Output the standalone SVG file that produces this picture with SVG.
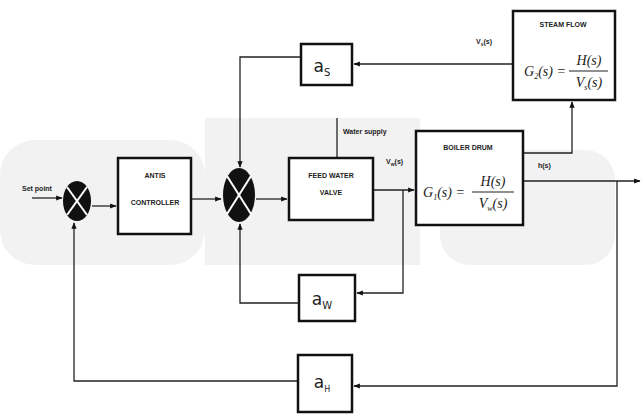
<svg xmlns="http://www.w3.org/2000/svg" width="644" height="416" viewBox="0 0 644 416">
<defs>
<marker id="arr" viewBox="0 0 10 10" refX="9" refY="5" markerWidth="5" markerHeight="5" orient="auto-start-reverse">
<path d="M0,1 L10,5 L0,9 z" fill="#111"/>
</marker>
<style>
.box{fill:#fff;stroke:#111;stroke-width:2.5}
.ln{fill:none;stroke:#222;stroke-width:1.3}
.lbl{font-family:"Liberation Sans",Arial,sans-serif;font-size:7px;font-weight:bold;fill:#222;text-anchor:middle}
.sm{font-family:"Liberation Sans",Arial,sans-serif;font-size:7px;font-weight:bold;fill:#222}
.gain{font-family:"DejaVu Sans",sans-serif;font-size:17px;fill:#222;text-anchor:middle}
.math{font-family:"Liberation Serif","Times New Roman",serif;font-style:italic;font-size:14px;fill:#222}
.wm{fill:#f2f2f2}
</style>
</defs>
<rect width="644" height="416" fill="#fff"/>
<g id="watermark">
<rect class="wm" x="0" y="140" width="205" height="125" rx="35"/>
<rect class="wm" x="205" y="118" width="215" height="147"/>
<rect class="wm" x="440" y="150" width="175" height="115" rx="30"/>
</g>
<g id="connectors">
<line class="ln" x1="32" y1="198" x2="62" y2="198" marker-end="url(#arr)"/>
<line class="ln" x1="92" y1="206" x2="116" y2="206" marker-end="url(#arr)"/>
<line class="ln" x1="192" y1="199" x2="221" y2="199" marker-end="url(#arr)"/>
<line class="ln" x1="256" y1="199" x2="287" y2="199" marker-end="url(#arr)"/>
<line class="ln" x1="337" y1="118" x2="337" y2="157"/>
<line class="ln" x1="373" y1="190" x2="414" y2="190" marker-end="url(#arr)"/>
<polyline class="ln" points="403,190 403,293 357,293" marker-end="url(#arr)"/>
<polyline class="ln" points="523,153 572,153 572,102" marker-end="url(#arr)"/>
<line class="ln" x1="523" y1="181" x2="640" y2="181" marker-end="url(#arr)"/>
<line class="ln" x1="512" y1="64" x2="354" y2="64" marker-end="url(#arr)"/>
<polyline class="ln" points="300,57 240,57 240,167" marker-end="url(#arr)"/>
<polyline class="ln" points="298,303 240,303 240,224" marker-end="url(#arr)"/>
<polyline class="ln" points="617,181 617,386 354,386" marker-end="url(#arr)"/>
<polyline class="ln" points="297,381 74,381 74,223" marker-end="url(#arr)"/>
</g>
<g id="sum1">
<ellipse cx="77" cy="201" rx="14" ry="20" fill="#111"/>
<line x1="67" y1="187" x2="87" y2="215" stroke="#fff" stroke-width="2"/>
<line x1="87" y1="187" x2="67" y2="215" stroke="#fff" stroke-width="2"/>
</g>
<g id="sum2">
<ellipse cx="239" cy="195" rx="16" ry="27" fill="#111"/>
<line x1="227" y1="176" x2="251" y2="214" stroke="#fff" stroke-width="2"/>
<line x1="251" y1="176" x2="227" y2="214" stroke="#fff" stroke-width="2"/>
</g>
<g id="setpoint">
<text class="sm" x="22" y="191">Set point</text>
</g>
<g id="controller">
<rect class="box" x="118" y="158" width="73" height="76"/>
<text class="lbl" x="155" y="178">ANTIS</text>
<text class="lbl" x="155" y="205">CONTROLLER</text>
</g>
<g id="valve">
<rect class="box" x="289" y="158" width="84" height="62"/>
<text class="lbl" x="331" y="178">FEED WATER</text>
<text class="lbl" x="331" y="195">VALVE</text>
<text class="sm" x="343" y="134">Water supply</text>
<text class="sm" x="386" y="164">V<tspan font-size="5" dy="2">w</tspan><tspan dy="-2">(s)</tspan></text>
</g>
<g id="boiler">
<rect class="box" x="416" y="131" width="107" height="94"/>
<text class="lbl" x="468" y="150">BOILER DRUM</text>
<text class="math" x="423" y="197">G<tspan font-size="8" dy="3">1</tspan><tspan dy="-3">(s) =</tspan></text>
<line x1="472" y1="192" x2="514" y2="192" stroke="#222" stroke-width="1"/>
<text class="math" x="493" y="186" text-anchor="middle">H(s)</text>
<text class="math" x="493" y="208" text-anchor="middle">V<tspan font-size="8" dy="3">w</tspan><tspan dy="-3">(s)</tspan></text>
<text class="sm" x="538" y="168">h(s)</text>
</g>
<g id="steam">
<rect class="box" x="513" y="11" width="102" height="89"/>
<text class="lbl" x="563" y="27">STEAM FLOW</text>
<text class="math" x="524" y="76">G<tspan font-size="8" dy="3">2</tspan><tspan dy="-3">(s) =</tspan></text>
<line x1="569" y1="71" x2="608" y2="71" stroke="#222" stroke-width="1"/>
<text class="math" x="589" y="65" text-anchor="middle">H(s)</text>
<text class="math" x="589" y="87" text-anchor="middle">V<tspan font-size="8" dy="3">s</tspan><tspan dy="-3">(s)</tspan></text>
<text class="sm" x="476" y="44">V<tspan font-size="5" dy="2">s</tspan><tspan dy="-2">(s)</tspan></text>
</g>
<g id="aS">
<rect class="box" x="301" y="44" width="51" height="41"/>
<text class="gain" x="322" y="72">a<tspan font-size="10" dy="4">S</tspan></text>
</g>
<g id="aW">
<rect class="box" x="299" y="275" width="56" height="46"/>
<text class="gain" x="322" y="305">a<tspan font-size="10" dy="4">W</tspan></text>
</g>
<g id="aH">
<rect class="box" x="298" y="355" width="54" height="57"/>
<text class="gain" x="322" y="388">a<tspan font-size="8" dy="4">H</tspan></text>
</g>
</svg>
